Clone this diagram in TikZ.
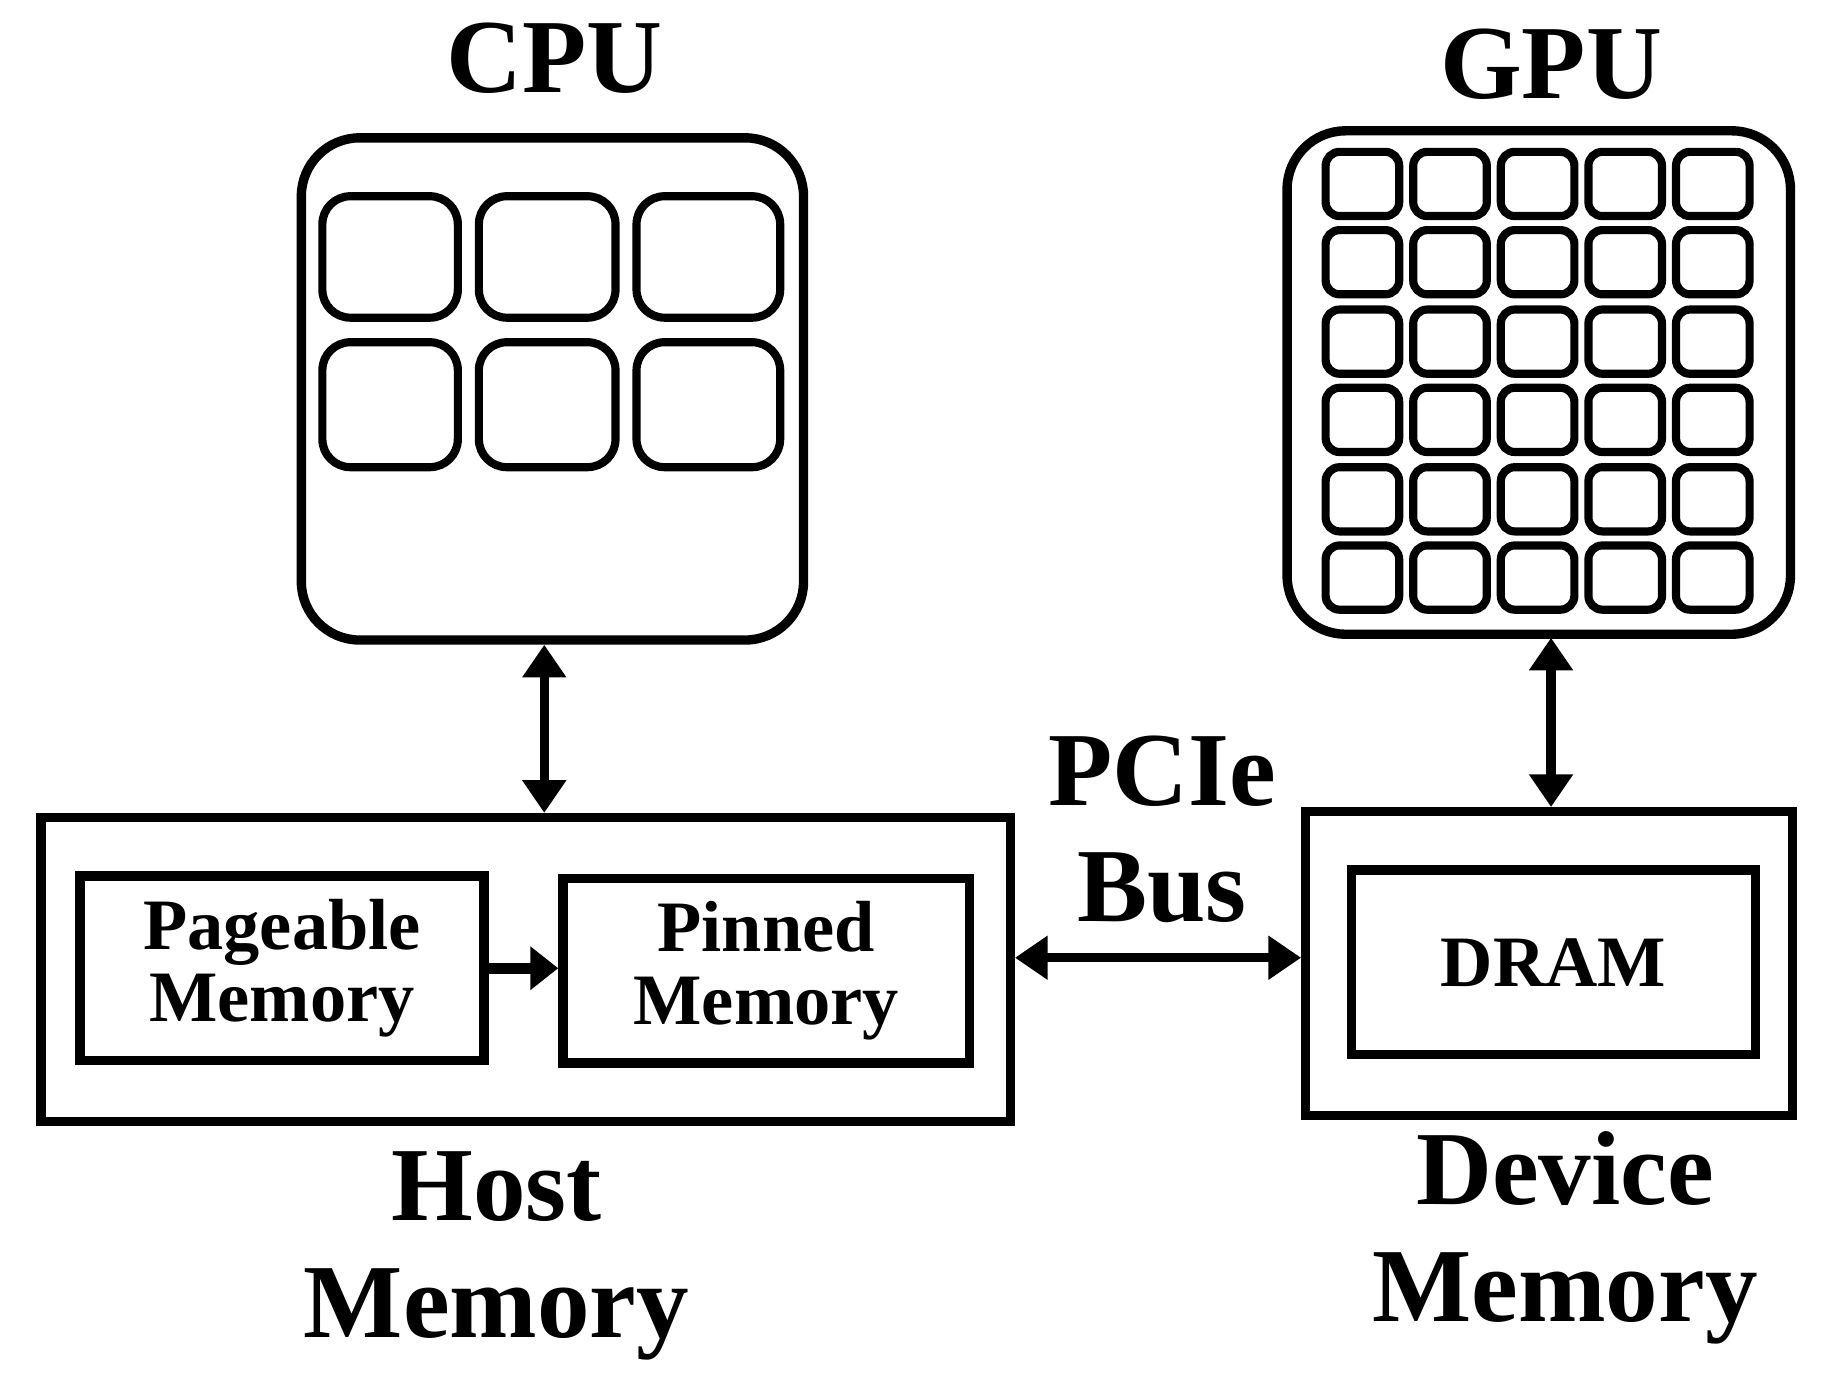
\documentclass[tikz,border=0pt]{standalone}
\usepackage{fontspec}
\setmainfont{Liberation Serif}
\usetikzlibrary{arrows.meta}
\begin{document}
\begin{tikzpicture}[x=0.5pt,y=-0.5pt,
  outer/.style={line width=4pt,rounded corners=25pt},
  core/.style={line width=3.5pt,rounded corners=12pt},
  cell/.style={line width=3.5pt,rounded corners=6pt},
  box/.style={line width=4pt},
  dbl/.style={line width=4pt,{Triangle[length=14pt,width=18pt]}-{Triangle[length=14pt,width=18pt]}},
  sgl/.style={line width=4.5pt,-{Triangle[length=12pt,width=18pt]}},
  big/.style={font=\fontsize{45}{48}\selectfont\bfseries},
  mid/.style={font=\fontsize{31}{31}\selectfont\bfseries,align=center}]
\useasboundingbox (0,0) rectangle (1560,1191);
% CPU
\draw[outer] (258,118) rectangle (688,548);
\node[big] (cpul) at (475,50) {CPU};
\foreach \i/\a/\b in {1/276/392,2/410/527,3/545/668}{
  \draw[core] (\a,168) rectangle (\b,272);
  \draw[core] (\a,293) rectangle (\b,400);}
\coordinate (cpub) at (466,552);
% GPU
\draw[outer] (1102,112) rectangle (1533,543);
\node[big] (gpul) at (1328,55) {GPU};
\foreach \x in {1135,1210,1285,1360,1435}{
  \foreach \y in {130,197,265,332,400,467}{
    \draw[cell] (\x,\y) rectangle ++(63,55);}}
\coordinate (gpub) at (1328,546);
% Host memory
\node[box,draw,minimum width=415pt,minimum height=130pt] (host) at (450,830) {};
\node[box,draw,mid,minimum width=173pt,minimum height=79pt] (page) at (241.5,829) {Pageable\\Memory};
\node[box,draw,mid,minimum width=174pt,minimum height=79pt] (pin) at (656,831) {Pinned\\Memory};
\draw[sgl] (page.east) -- (pin.west |- page.east);
\node[big,align=center,font=\fontsize{45}{50}\selectfont\bfseries] (hostl) at (425,1075) {Host\\Memory};
% Device memory
\node[box,draw,minimum width=208.5pt,minimum height=130pt] (dev) at (1326.5,825) {};
\node[box,draw,mid,minimum width=173pt,minimum height=79pt] (dram) at (1330,824) {DRAM};
\node[big,align=center,font=\fontsize{45}{50}\selectfont\bfseries] (devl) at (1340,1060) {Device\\Memory};
% PCIe
\node[big,align=center,font=\fontsize{45}{50}\selectfont\bfseries] (pcie) at (995,710) {PCIe\\Bus};
\draw[dbl] (host.east |- 0,820) -- (dev.west |- 0,820);
\draw[dbl] (cpub) -- (host.north -| cpub);
\draw[dbl] (gpub) -- (dev.north -| gpub);
\end{tikzpicture}
\end{document}
